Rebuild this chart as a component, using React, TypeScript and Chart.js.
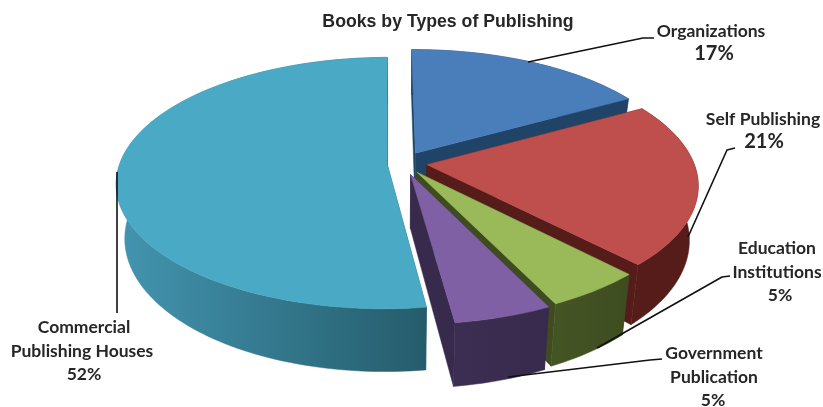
import React, { useEffect, useRef } from "react";
import { Chart, registerables } from "chart.js";

Chart.register(...registerables);

const chartTitle = "Books by Types of Publishing";
const categories = ["Organizations", "Self Publishing", "Education Institutions", "Government Publication", "Commercial Publishing Houses"];
const shares = [17, 21, 5, 5, 52];
const topColors = ["#4a7ebb", "#be4f4c", "#9aba5a", "#8060a5", "#4aaac6"];
const wallStart = ["#1f4468", "#561c1a", "#445524", "#3c2e52", "#4395b0"];
const wallEnd = ["#1f4468", "#561c1a", "#3e4c20", "#382a4c", "#255c6b"];
const explode = [25, 24, 24, 26, 16];

const labelLines = [
  [["Organizations", 711, 31, 17.5], ["17%", 714, 54, 20]],
  [["Self Publishing", 763, 119, 17.5], ["21%", 764, 142, 20]],
  [["Education", 777, 248, 17.5], ["Institutions", 777, 272, 17.5], ["5%", 780, 295, 17.5]],
  [["Government", 714, 353, 17.5], ["Publication", 714, 377, 17.5], ["5%", 713, 400, 17.5]],
  [["Commercial", 84, 327, 17.5], ["Publishing Houses", 82, 351, 17.5], ["52%", 84, 374, 17.5]],
] as [string, number, number, number][][];

const leaders = [
  [[528, 62], [643, 38], [654, 38]],
  [[688, 237], [727, 150], [735, 148]],
  [[597, 348], [722, 277], [730, 276]],
  [[508, 377], [650, 360], [662, 359]],
  [[117, 172], [117, 313]],
];

const VIEW_DIST = 6.44;
const TILT = 122.5;
const DEPTH = 53;
const BASE_SHRINK = 0.97;

const pie3d = {
  id: "pie3d",
  beforeDatasetsDraw(chart: any) {
    const ctx: CanvasRenderingContext2D = chart.ctx;
    const meta = chart.getDatasetMeta(0);
    const area = chart.chartArea;
    const cx = (area.left + area.right) / 2;
    const cy = (area.top + area.bottom) / 2;

    const project = (u: number, v: number, base: boolean) => {
      const s = VIEW_DIST / (VIEW_DIST - v);
      const x = u * s * (base ? BASE_SHRINK : 1);
      const y = TILT * v * s + (base ? DEPTH * s : 0);
      return [cx + x, cy + y];
    };

    const items = meta.data.map((el: any, i: number) => {
      const p = el.getProps(["startAngle", "endAngle", "outerRadius"], true);
      const R = p.outerRadius;
      const mid = (p.startAngle + p.endAngle) / 2;
      const off = el.options.offset / R;
      const ou = Math.cos(mid) * off;
      const ov = Math.sin(mid) * off;
      const rim: [number, number][] = [];
      const steps = Math.max(8, Math.ceil((p.endAngle - p.startAngle) * 40));
      for (let k = 0; k <= steps; k++) {
        const a = p.startAngle + ((p.endAngle - p.startAngle) * k) / steps;
        rim.push([ou + Math.cos(a), ov + Math.sin(a)]);
      }
      return { i, R, mid, apex: [ou, ov] as [number, number], rim, order: ov + Math.sin(mid), color: el.options.backgroundColor };
    });

    items.sort((a: any, b: any) => a.order - b.order);

    const poly = (pts: number[][], fill: CanvasRenderingContext2D["fillStyle"]) => {
      ctx.beginPath();
      pts.forEach((q, n) => (n ? ctx.lineTo(q[0], q[1]) : ctx.moveTo(q[0], q[1])));
      ctx.closePath();
      ctx.fillStyle = fill;
      ctx.strokeStyle = fill;
      ctx.lineWidth = 0.5;
      ctx.fill();
      ctx.stroke();
    };

    for (const it of items) {
      const P = (q: [number, number], base: boolean) => project(q[0] * it.R, q[1], base);
      const first = it.rim[0];
      const last = it.rim[it.rim.length - 1];
      poly([P(it.apex, false), P(first, false), P(first, true), P(it.apex, true)], wallEnd[it.i]);
      poly([P(it.apex, false), P(last, false), P(last, true), P(it.apex, true)], wallEnd[it.i]);

      const topRim = it.rim.map((q: [number, number]) => P(q, false));
      const baseRim = it.rim.map((q: [number, number]) => P(q, true)).reverse();
      const xs = topRim.map((q: number[]) => q[0]);
      const minX = Math.min(...xs);
      const maxX = Math.max(...xs);
      const grad = ctx.createLinearGradient(minX, 0, maxX, 0);
      grad.addColorStop(0, wallStart[it.i]);
      grad.addColorStop(1, wallEnd[it.i]);
      poly([...topRim, ...baseRim], grad);

      poly([P(it.apex, false), ...topRim], it.color);
    }
    return false;
  },
  afterDraw(chart: any) {
    const ctx: CanvasRenderingContext2D = chart.ctx;
    ctx.save();
    ctx.strokeStyle = "#111111";
    ctx.lineWidth = 1.6;
    ctx.lineJoin = "round";
    leaders.forEach((line) => {
      ctx.beginPath();
      line.forEach(([x, y], n) => (n ? ctx.lineTo(x, y) : ctx.moveTo(x, y)));
      ctx.stroke();
    });
    ctx.textAlign = "center";
    ctx.textBaseline = "middle";
    ctx.fillStyle = "#262626";
    ctx.font = 'bold 17.7px "Liberation Sans", Arial, sans-serif';
    ctx.fillText(chartTitle, 448, 22);
    labelLines.forEach((lines) =>
      lines.forEach(([text, x, y, size]) => {
        ctx.font = `bold ${size}px Lato, "Open Sans", sans-serif`;
        ctx.fillText(text, x, y);
      })
    );
    ctx.restore();
  },
};

export default function App() {
  const ref = useRef<HTMLCanvasElement>(null);
  useEffect(() => {
    const chart = new Chart(ref.current as HTMLCanvasElement, {
      type: "pie",
      data: {
        labels: categories,
        datasets: [{ data: shares, backgroundColor: topColors, offset: explode, borderWidth: 0 } as any],
      },
      options: {
        animation: false,
        responsive: false,
        radius: 267,
        rotation: -0.5,
        layout: { padding: { left: 0, right: 17, top: 0, bottom: 81 } },
        plugins: { legend: { display: false }, title: { display: false }, tooltip: { enabled: false } },
      } as any,
      plugins: [pie3d as any],
    });
    return () => chart.destroy();
  }, []);
  return (
    <div style={{ position: "absolute", left: 0, top: 0, width: 823, height: 407, background: "#ffffff" }}>
      <canvas ref={ref} width={823} height={407} style={{ display: "block" }} />
    </div>
  );
}
